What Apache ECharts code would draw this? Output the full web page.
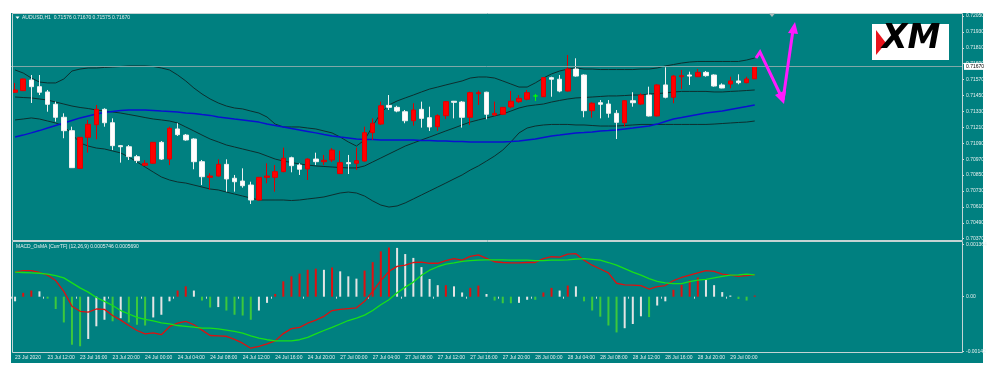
<!DOCTYPE html>
<html><head><meta charset="utf-8">
<script src="https://cdn.jsdelivr.net/npm/echarts@6/dist/echarts.min.js"></script>
<style>html,body{margin:0;padding:0;background:#fff}#c{width:1000px;height:378px}</style>
</head><body><div id="c"></div>
<script>
const symbolName = 'AUDUSD,H1';
const dayHours = [['23 Jul',8,23],['24 Jul',0,23],['27 Jul',0,23],['28 Jul',0,23],['29 Jul',0,23],['30 Jul',0,4]];
const xTickLabels = ['23 Jul 2020','23 Jul 12:00','23 Jul 16:00','23 Jul 20:00','24 Jul 00:00','24 Jul 04:00','24 Jul 08:00','24 Jul 12:00','24 Jul 16:00','24 Jul 20:00','27 Jul 00:00','27 Jul 04:00','27 Jul 08:00','27 Jul 12:00','27 Jul 16:00','27 Jul 20:00','28 Jul 00:00','28 Jul 04:00','28 Jul 08:00','28 Jul 12:00','28 Jul 16:00','28 Jul 20:00','29 Jul 00:00'];
const priceTicks = [0.70370,0.70490,0.70610,0.70730,0.70850,0.70970,0.71090,0.71210,0.71330,0.71450,0.71570,0.71690,0.71810,0.71930,0.72050];
const macdTicks = [0.001364,0,-0.00142];
const macdTickLabels = ['0.001364','0.00','-0.00142'];
const macdTitle = 'MACD_OsMA [CurrTF] (12,26,9) 0.0005746 0.0005690';

const opens = [0.71475,0.71487,0.71567,0.71517,0.71477,0.71384,0.71286,0.71185,0.70901,0.71135,
0.71230,0.71346,0.71245,0.71072,0.71064,0.70989,0.70924,0.70939,0.71097,0.70971,
0.71198,0.71152,0.71122,0.70951,0.70833,0.70843,0.70931,0.70826,0.70805,0.70775,
0.70662,0.70833,0.70833,0.70876,0.70981,0.70926,0.70896,0.70971,0.70951,0.70964,
0.70861,0.70944,0.70939,0.70956,0.71170,0.71235,0.71376,0.71361,0.71328,0.71260,
0.71346,0.71283,0.71215,0.71298,0.71407,0.71401,0.71286,0.71464,0.71475,0.71303,
0.71309,0.71364,0.71404,0.71422,0.71447,0.71441,0.71585,0.71573,0.71484,0.71650,
0.71605,0.71336,0.71396,0.71386,0.71316,0.71245,0.71411,0.71386,0.71454,0.71296,
0.71530,0.71437,0.71592,0.71605,0.71592,0.71625,0.71605,0.71530,0.71537,0.71560,
0.71547,0.71576];
const closes = [0.71492,0.71575,0.71517,0.71475,0.71384,0.71286,0.71185,0.70906,0.71135,0.71233,
0.71346,0.71245,0.71072,0.71064,0.70989,0.70959,0.70939,0.71097,0.70971,0.71203,
0.71155,0.71115,0.70951,0.70838,0.70843,0.70931,0.70821,0.70800,0.70770,0.70662,
0.70833,0.70843,0.70876,0.70977,0.70921,0.70894,0.70971,0.70951,0.70962,0.71039,
0.70944,0.70936,0.70959,0.71170,0.71241,0.71373,0.71361,0.71333,0.71260,0.71341,
0.71278,0.71213,0.71298,0.71404,0.71399,0.71286,0.71472,0.71472,0.71309,0.71316,
0.71361,0.71407,0.71429,0.71472,0.71447,0.71585,0.71573,0.71484,0.71650,0.71597,
0.71336,0.71392,0.71384,0.71316,0.71248,0.71411,0.71396,0.71454,0.71296,0.71530,
0.71437,0.71597,0.71600,0.71597,0.71625,0.71600,0.71522,0.71507,0.71560,0.71547,
0.71575,0.71670];
const lows = [0.71469,0.71484,0.71394,0.71454,0.71328,0.71253,0.71128,0.70904,0.70896,0.71019,
0.71120,0.71215,0.71039,0.70944,0.70964,0.70941,0.70919,0.70934,0.70964,0.70926,
0.71145,0.71109,0.70894,0.70775,0.70738,0.70838,0.70725,0.70725,0.70755,0.70632,
0.70658,0.70788,0.70725,0.70871,0.70871,0.70851,0.70813,0.70926,0.70926,0.70949,
0.70858,0.70858,0.70888,0.70951,0.71115,0.71228,0.71341,0.71324,0.71241,0.71223,
0.71208,0.71183,0.71183,0.71273,0.71278,0.71208,0.71228,0.71379,0.71271,0.71296,
0.71303,0.71354,0.71394,0.71414,0.71409,0.71439,0.71441,0.71475,0.71479,0.71592,
0.71286,0.71283,0.71278,0.71283,0.71122,0.71215,0.71366,0.71379,0.71292,0.71292,
0.71429,0.71392,0.71499,0.71530,0.71590,0.71592,0.71517,0.71505,0.71505,0.71535,
0.71542,0.71575];
const highs = [0.71545,0.71579,0.71605,0.71605,0.71492,0.71404,0.71316,0.71215,0.71137,0.71266,
0.71379,0.71354,0.71278,0.71077,0.71077,0.71002,0.70964,0.71100,0.71107,0.71215,
0.71241,0.71160,0.71128,0.70964,0.70864,0.70969,0.70969,0.70851,0.70901,0.70800,
0.70836,0.70939,0.70926,0.71057,0.70989,0.70939,0.70977,0.71019,0.71002,0.71054,
0.71034,0.71002,0.71057,0.71215,0.71278,0.71404,0.71454,0.71373,0.71341,0.71392,
0.71404,0.71366,0.71309,0.71409,0.71409,0.71409,0.71479,0.71487,0.71479,0.71404,
0.71364,0.71484,0.71454,0.71492,0.71462,0.71590,0.71592,0.71605,0.71756,0.71731,
0.71610,0.71399,0.71416,0.71416,0.71341,0.71416,0.71475,0.71467,0.71517,0.71537,
0.71663,0.71605,0.71643,0.71630,0.71650,0.71635,0.71610,0.71542,0.71592,0.71610,
0.71592,0.71670];
const bbUpper = [0.71643,0.71620,0.71582,0.71552,0.71545,0.71545,0.71575,0.71635,0.71650,0.71658,
0.71658,0.71662,0.71665,0.71669,0.71673,0.71673,0.71673,0.71669,0.71658,0.71643,
0.71605,0.71560,0.71507,0.71462,0.71424,0.71394,0.71371,0.71356,0.71349,0.71333,
0.71318,0.71288,0.71235,0.71213,0.71213,0.71213,0.71205,0.71198,0.71183,0.71168,
0.71137,0.71100,0.71069,0.71115,0.71220,0.71318,0.71379,0.71409,0.71432,0.71454,
0.71477,0.71499,0.71514,0.71530,0.71545,0.71560,0.71582,0.71590,0.71590,0.71582,
0.71560,0.71537,0.71514,0.71514,0.71545,0.71582,0.71613,0.71635,0.71650,0.71658,
0.71650,0.71650,0.71646,0.71646,0.71646,0.71646,0.71646,0.71650,0.71650,0.71658,
0.71673,0.71684,0.71695,0.71703,0.71707,0.71707,0.71707,0.71707,0.71707,0.71707,
0.71718,0.71733];
const bbMiddle = [0.71439,0.71435,0.71432,0.71424,0.71416,0.71401,0.71386,0.71371,0.71360,0.71352,
0.71341,0.71333,0.71326,0.71318,0.71307,0.71296,0.71284,0.71273,0.71266,0.71258,
0.71243,0.71213,0.71183,0.71152,0.71122,0.71100,0.71077,0.71062,0.71047,0.71032,
0.71017,0.70994,0.70971,0.70956,0.70945,0.70934,0.70926,0.70919,0.70915,0.70911,
0.70907,0.70904,0.70904,0.70919,0.70949,0.70979,0.71009,0.71039,0.71069,0.71092,
0.71115,0.71137,0.71160,0.71183,0.71205,0.71228,0.71250,0.71266,0.71281,0.71296,
0.71311,0.71333,0.71356,0.71371,0.71379,0.71386,0.71401,0.71413,0.71424,0.71432,
0.71435,0.71439,0.71443,0.71447,0.71447,0.71450,0.71454,0.71454,0.71462,0.71465,
0.71469,0.71477,0.71481,0.71481,0.71481,0.71481,0.71477,0.71477,0.71481,0.71484,
0.71488,0.71492];
const bbLower = [0.71266,0.71273,0.71281,0.71273,0.71258,0.71243,0.71220,0.71160,0.71092,0.71069,
0.71054,0.71047,0.71032,0.71017,0.70986,0.70949,0.70911,0.70873,0.70836,0.70813,
0.70798,0.70790,0.70775,0.70760,0.70745,0.70738,0.70722,0.70707,0.70692,0.70677,
0.70662,0.70662,0.70662,0.70662,0.70658,0.70662,0.70670,0.70677,0.70685,0.70700,
0.70715,0.70722,0.70715,0.70692,0.70655,0.70624,0.70609,0.70617,0.70640,0.70670,
0.70700,0.70730,0.70760,0.70790,0.70821,0.70851,0.70888,0.70919,0.70956,0.70994,
0.71039,0.71100,0.71168,0.71205,0.71220,0.71228,0.71232,0.71232,0.71232,0.71228,
0.71228,0.71224,0.71220,0.71220,0.71220,0.71224,0.71228,0.71232,0.71232,0.71232,
0.71232,0.71232,0.71232,0.71232,0.71232,0.71232,0.71235,0.71239,0.71243,0.71247,
0.71250,0.71258];
const maBlue = [0.71137,0.71152,0.71168,0.71186,0.71205,0.71224,0.71243,0.71262,0.71281,0.71296,
0.71311,0.71322,0.71330,0.71337,0.71341,0.71341,0.71341,0.71337,0.71333,0.71330,
0.71326,0.71318,0.71315,0.71307,0.71300,0.71288,0.71281,0.71273,0.71266,0.71258,
0.71250,0.71235,0.71224,0.71213,0.71201,0.71190,0.71179,0.71168,0.71156,0.71145,
0.71137,0.71130,0.71122,0.71118,0.71118,0.71115,0.71115,0.71115,0.71115,0.71115,
0.71111,0.71111,0.71107,0.71107,0.71103,0.71103,0.71100,0.71100,0.71100,0.71100,
0.71100,0.71103,0.71107,0.71115,0.71122,0.71134,0.71145,0.71152,0.71160,0.71168,
0.71171,0.71175,0.71183,0.71186,0.71190,0.71198,0.71205,0.71213,0.71220,0.71235,
0.71254,0.71273,0.71284,0.71296,0.71307,0.71318,0.71326,0.71333,0.71345,0.71356,
0.71367,0.71379];
const macdHist = [-0.00012,0.00010,0.00016,0.00014,-0.00005,-0.00032,-0.00067,-0.00125,-0.00129,-0.00110,
-0.00077,-0.00060,-0.00064,-0.00056,-0.00067,-0.00073,-0.00075,-0.00054,-0.00047,-0.00012,
0.00016,0.00027,0.00016,-0.00010,-0.00028,-0.00027,-0.00036,-0.00047,-0.00049,-0.00060,
-0.00036,-0.00016,0.00007,0.00040,0.00053,0.00060,0.00070,0.00073,0.00070,0.00076,
0.00066,0.00053,0.00047,0.00068,0.00090,0.00118,0.00128,0.00127,0.00111,0.00101,
0.00077,0.00046,0.00030,0.00030,0.00027,0.00011,0.00023,0.00029,0.00007,-0.00010,
-0.00017,-0.00017,-0.00016,-0.00008,-0.00008,0.00011,0.00023,0.00016,0.00029,0.00027,
-0.00012,-0.00036,-0.00052,-0.00075,-0.00093,-0.00082,-0.00071,-0.00051,-0.00053,-0.00023,
-0.00012,0.00018,0.00031,0.00043,0.00050,0.00044,0.00030,0.00012,0.00003,-0.00006,
-0.00010,0.00003];
const histColorCodes = 'wrrwgggggwwwgwgggwwwrrwggwggggwwrrrrrrwrwwwrrrrwwwwwwrwwrrwgggwwgrrwrwgggggwwwgwwrrrrwwwwggr';
const macdMain = [0.00064,0.00068,0.00068,0.00063,0.00056,0.00042,0.00014,-0.00025,-0.00038,-0.00040,
-0.00032,-0.00033,-0.00049,-0.00061,-0.00075,-0.00088,-0.00097,-0.00094,-0.00099,-0.00078,
-0.00069,-0.00064,-0.00073,-0.00087,-0.00101,-0.00102,-0.00103,-0.00111,-0.00121,-0.00134,
-0.00129,-0.00123,-0.00115,-0.00096,-0.00083,-0.00080,-0.00069,-0.00061,-0.00051,-0.00036,
-0.00033,-0.00031,-0.00029,-0.00012,0.00014,0.00042,0.00066,0.00079,0.00082,0.00089,
0.00090,0.00087,0.00087,0.00094,0.00099,0.00095,0.00105,0.00109,0.00100,0.00091,
0.00089,0.00088,0.00088,0.00089,0.00089,0.00099,0.00104,0.00103,0.00111,0.00112,
0.00095,0.00082,0.00072,0.00062,0.00035,0.00031,0.00030,0.00029,0.00020,0.00026,
0.00029,0.00042,0.00050,0.00056,0.00062,0.00068,0.00066,0.00059,0.00056,0.00053,
0.00055,0.000575];
const macdSignal = [0.00064,0.00063,0.00062,0.00061,0.00059,0.00055,0.00049,0.00036,0.00023,0.00012,
-0.00002,-0.00012,-0.00023,-0.00036,-0.00045,-0.00054,-0.00059,-0.00063,-0.00068,-0.00071,
-0.00075,-0.00077,-0.00079,-0.00082,-0.00082,-0.00084,-0.00087,-0.00090,-0.00095,-0.00102,
-0.00108,-0.00112,-0.00115,-0.00115,-0.00115,-0.00112,-0.00106,-0.00097,-0.00088,-0.00080,
-0.00071,-0.00062,-0.00056,-0.00048,-0.00036,-0.00021,-0.00008,0.00010,0.00025,0.00038,
0.00056,0.00069,0.00078,0.00085,0.00088,0.00092,0.00094,0.00095,0.00096,0.00096,
0.00096,0.00095,0.00095,0.00095,0.00094,0.00094,0.00095,0.00095,0.00096,0.00098,
0.00099,0.00097,0.00095,0.00089,0.00082,0.00073,0.00064,0.00056,0.00047,0.00040,
0.00036,0.00034,0.00034,0.00039,0.00043,0.00045,0.00049,0.00053,0.00056,0.00057,
0.00059,0.000569];

// ---- build ----
const cats = [];
dayHours.forEach(([d,a,b]) => { for (let h=a; h<=b; h++) cats.push(d + ' ' + String(h).padStart(2,'0') + ':00'); });
const nBars = opens.length;
const last = nBars - 1;
const FONT = 'Liberation Sans';
const TXT = '#e6eeee';
const histColorMap = { r:'#e01010', w:'#e4e4e4', g:'#3cc83c' };
const titleText = symbolName + '  ' + [opens[last], highs[last], lows[last], closes[last]].map(v=>v.toFixed(5)).join(' ');

const chart = echarts.init(document.getElementById('c'), null, {renderer:'canvas'});
const labelShown = (idx) => idx % 4 === 0 && idx / 4 < xTickLabels.length;

const lineS = (data, color, width, extra) => Object.assign({
  type:'line', xAxisIndex:0, yAxisIndex:0, data, symbol:'none', smooth:false, z:2,
  lineStyle:{color, width}, silent:true
}, extra || {});

const priceLine = {
  silent:true, symbol:['none','none'], animation:false, precision:5,
  data:[{yAxis: closes[last]}],
  lineStyle:{color:'#7fa8a8', width:1, type:'solid'},
  label:{show:true, position:'end', formatter: closes[last].toFixed(5), backgroundColor:'#ffffff', color:'#000000',
    fontSize:5, fontFamily:FONT, padding:[1,2,1,2], distance:2}
};

chart.setOption({
  animation:false,
  backgroundColor:'#ffffff',
  grid:[
    {left:11, top:14, width:951, height:226, show:false},
    {left:11, top:242, width:951, height:110, show:false}
  ],
  xAxis:[
    {type:'category', gridIndex:0, data:cats, boundaryGap:true, axisLine:{show:false}, axisTick:{show:false}, axisLabel:{show:false}, splitLine:{show:false}},
    {type:'category', gridIndex:1, data:cats, boundaryGap:true, axisLine:{show:false},
      axisTick:{show:true, interval:(i)=>labelShown(i), length:2, lineStyle:{color:'#cfdada', width:1}},
      axisLabel:{show:true, interval:(i)=>labelShown(i), formatter:(v,i)=>xTickLabels[i/4] || '', align:'left', margin:3,
        fontSize:5, color:TXT, fontFamily:FONT},
      splitLine:{show:false}}
  ],
  yAxis:[
    {type:'value', gridIndex:0, position:'right', min:0.703604, max:0.720651,
      axisLine:{show:false}, splitLine:{show:false},
      axisTick:{show:true, customValues:priceTicks, length:2, lineStyle:{color:'#cfdada'}},
      axisLabel:{show:true, customValues:priceTicks, formatter:(v)=>v.toFixed(5), fontSize:5, color:TXT, fontFamily:FONT, margin:4}},
    {type:'value', gridIndex:1, position:'right', min:-0.0014393, max:0.0014237,
      axisLine:{show:false}, splitLine:{show:false},
      axisTick:{show:true, customValues:macdTicks, length:2, lineStyle:{color:'#cfdada'}},
      axisLabel:{show:true, customValues:macdTicks, formatter:(v)=>{const k=macdTicks.findIndex(t=>Math.abs(t-v)<1e-9); return k>=0?macdTickLabels[k]:'';}, fontSize:5, color:TXT, fontFamily:FONT, margin:4}}
  ],
  series:[
    lineS(bbUpper, '#0d2e2e', 1, {markLine: priceLine}),
    lineS(bbMiddle, '#0d2e2e', 1),
    lineS(bbLower, '#0d2e2e', 1),
    lineS(maBlue, '#0a10d0', 1.4),
    {
      type:'candlestick', xAxisIndex:0, yAxisIndex:0, z:3, barWidth:5, silent:true,
      data: opens.map((o,i)=>[o, closes[i], lows[i], highs[i]]),
      itemStyle:{color:'#ff0000', color0:'#ffffff', borderColor:'#e00000', borderColor0:'#f0f0f0', borderColorDoji:'#00ff00', borderWidth:1}
    },
    {
      type:'bar', xAxisIndex:1, yAxisIndex:1, barWidth:2, silent:true, z:2,
      data: macdHist.map((v,i)=>({value:v, itemStyle:{color: histColorMap[histColorCodes[i]]}}))
    },
    {type:'line', xAxisIndex:1, yAxisIndex:1, data:macdMain, symbol:'none', lineStyle:{color:'#dd1010', width:1.3}, z:3, silent:true},
    {type:'line', xAxisIndex:1, yAxisIndex:1, data:macdSignal, symbol:'none', lineStyle:{color:'#18e018', width:1.3}, z:3, silent:true}
  ],
  graphic:[
    {type:'rect', z:-10, silent:true, shape:{x:11, y:13, width:972, height:350}, style:{fill:'#008080'}},
    {type:'rect', z:20, silent:true, shape:{x:12.5, y:13.5, width:950, height:227}, style:{fill:null, stroke:'#c4d4d4', lineWidth:1}},
    {type:'rect', z:20, silent:true, shape:{x:12.5, y:241.5, width:950, height:111}, style:{fill:null, stroke:'#c4d4d4', lineWidth:1}},
    {type:'polygon', z:20, silent:true, shape:{points:[[15.5,16.5],[19.5,16.5],[17.5,19]]}, style:{fill:'#ffffff'}},
    {type:'text', z:20, silent:true, x:22, y:15.5, style:{text:titleText, fill:TXT, fontSize:5, fontFamily:FONT}},
    {type:'text', z:20, silent:true, x:16, y:244, style:{text:macdTitle, fill:TXT, fontSize:5, fontFamily:FONT}},
    {type:'polygon', z:20, silent:true, shape:{points:[[769,13.5],[775,13.5],[772,17]]}, style:{fill:'#a8b8b8'}},
    // XM logo
    {type:'rect', z:20, silent:true, shape:{x:872, y:24, width:77, height:36}, style:{fill:'#ffffff'}},
    {type:'polygon', z:21, silent:true, shape:{points:[[876,30],[886,43],[876,55]]}, style:{fill:'#e8141c'}},
    {type:'text', z:21, silent:true, x:882, y:23, style:{text:'XM', fill:'#000000', fontSize:33, fontWeight:'bold', fontStyle:'italic', fontFamily:'DejaVu Sans'}},
    // magenta zigzag arrow
    {type:'polyline', z:22, silent:true, shape:{points:[[756,58],[760,52],[782,98]]}, style:{stroke:'#ff1aff', lineWidth:3, fill:null, lineJoin:'miter'}},
    {type:'polygon', z:22, silent:true, shape:{points:[[775,95],[786,90],[784,104]]}, style:{fill:'#ff1aff'}},
    {type:'polyline', z:22, silent:true, shape:{points:[[783,100],[793,30]]}, style:{stroke:'#ff1aff', lineWidth:3, fill:null}},
    {type:'polygon', z:22, silent:true, shape:{points:[[788,33],[798,34],[795,22]]}, style:{fill:'#ff1aff'}}
  ]
});
</script>
</body></html>
